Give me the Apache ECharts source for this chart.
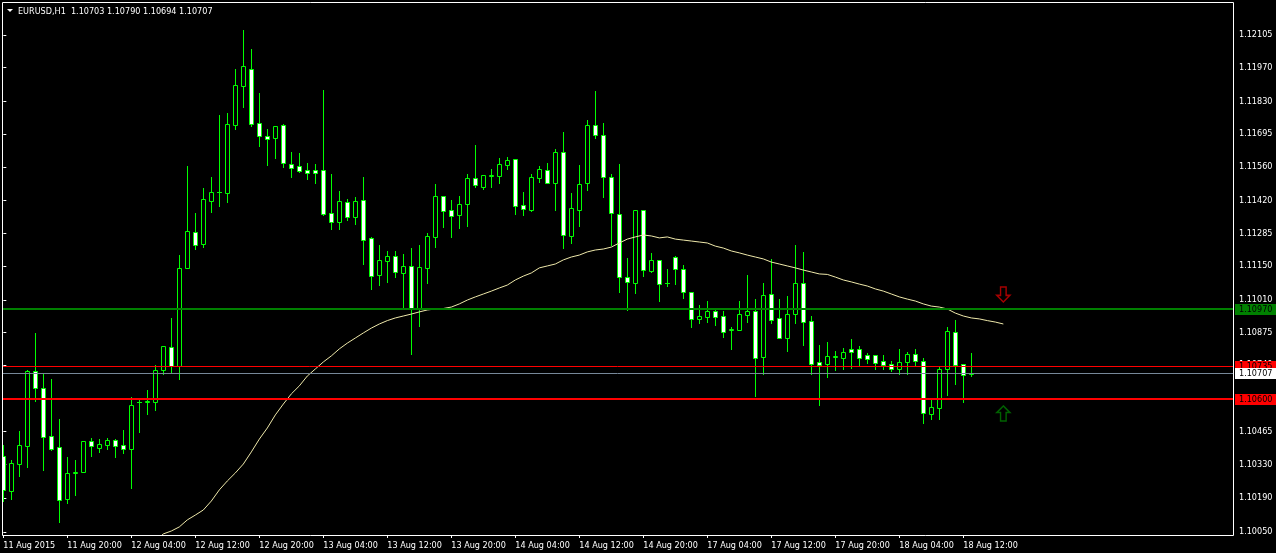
<!DOCTYPE html>
<html>
<head>
<meta charset="utf-8">
<title>EURUSD,H1</title>
<script src="https://cdn.jsdelivr.net/npm/echarts@6.0.0/dist/echarts.min.js"></script>
<style>
  html, body { margin: 0; padding: 0; background: #000; }
  #chart { width: 1276px; height: 553px; }
</style>
</head>
<body>
<div id="chart"></div>
<script>
// ---- chart data -------------------------------------------------------
const symbolName = 'EURUSD,H1';

// time labels, one every 8 hourly bars starting at bar 0
const timeLabels = [
  '11 Aug 2015', '11 Aug 20:00', '12 Aug 04:00', '12 Aug 12:00', '12 Aug 20:00',
  '13 Aug 04:00', '13 Aug 12:00', '13 Aug 20:00', '14 Aug 04:00', '14 Aug 12:00',
  '14 Aug 20:00', '17 Aug 04:00', '17 Aug 12:00', '17 Aug 20:00', '18 Aug 04:00',
  '18 Aug 12:00'
];
const labelStep = 8;

// hourly OHLC
const opens = [
  1.10364, 1.10221, 1.10333, 1.10407, 1.10716, 1.10644, 1.10446, 1.10400, 1.10185, 1.10295,
  1.10300, 1.10428, 1.10399, 1.10411, 1.10429, 1.10409, 1.10395, 1.10586, 1.10589, 1.10586,
  1.10721, 1.10814, 1.10735, 1.11143, 1.11289, 1.11242, 1.11420, 1.11455, 1.11453, 1.11734,
  1.11896, 1.11963, 1.11740, 1.11686, 1.11677, 1.11732, 1.11571, 1.11562, 1.11546, 1.11546,
  1.11546, 1.11368, 1.11333, 1.11413, 1.11354, 1.11422, 1.11265, 1.11113, 1.11172, 1.11190,
  1.11122, 1.11149, 1.10978, 1.11143, 1.11271, 1.11438, 1.11380, 1.11362, 1.11408, 1.11513,
  1.11478, 1.11523, 1.11523, 1.11569, 1.11591, 1.11401, 1.11382, 1.11515, 1.11548, 1.11494,
  1.11620, 1.11275, 1.11383, 1.11492, 1.11732, 1.11690, 1.11517, 1.11364, 1.11103, 1.11081,
  1.11380, 1.11131, 1.11174, 1.11080, 1.11186, 1.11136, 1.11041, 1.10930, 1.10940, 1.10964,
  1.10942, 1.10887, 1.10887, 1.10949, 1.10964, 1.10775, 1.11033, 1.10934, 1.10854, 1.10950,
  1.11079, 1.10921, 1.10753, 1.10746, 1.10775, 1.10771, 1.10807, 1.10807, 1.10782, 1.10781,
  1.10756, 1.10743, 1.10725, 1.10754, 1.10785, 1.10756, 1.10539, 1.10564, 1.10723, 1.10876,
  1.10745, 1.10703
];
const highs = [
  1.10410, 1.10348, 1.10468, 1.10720, 1.10874, 1.10702, 1.10683, 1.10517, 1.10360, 1.10348,
  1.10428, 1.10438, 1.10435, 1.10440, 1.10434, 1.10472, 1.10608, 1.10599, 1.10637, 1.10741,
  1.10818, 1.10935, 1.11196, 1.11564, 1.11369, 1.11473, 1.11518, 1.11774, 1.11783, 1.11965,
  1.12126, 1.12047, 1.11865, 1.11717, 1.11728, 1.11736, 1.11622, 1.11617, 1.11576, 1.11572,
  1.11878, 1.11530, 1.11460, 1.11427, 1.11435, 1.11518, 1.11270, 1.11237, 1.11212, 1.11212,
  1.11200, 1.11226, 1.11237, 1.11287, 1.11489, 1.11438, 1.11423, 1.11441, 1.11530, 1.11650,
  1.11525, 1.11550, 1.11597, 1.11601, 1.11591, 1.11456, 1.11529, 1.11564, 1.11576, 1.11633,
  1.11703, 1.11452, 1.11568, 1.11754, 1.11874, 1.11741, 1.11529, 1.11572, 1.11182, 1.11380,
  1.11380, 1.11204, 1.11174, 1.11138, 1.11191, 1.11154, 1.11041, 1.10989, 1.11005, 1.10975,
  1.10964, 1.10898, 1.11005, 1.11113, 1.11014, 1.11080, 1.11179, 1.11014, 1.11026, 1.11237,
  1.11207, 1.10943, 1.10823, 1.10836, 1.10799, 1.10811, 1.10848, 1.10819, 1.10790, 1.10781,
  1.10781, 1.10756, 1.10807, 1.10794, 1.10807, 1.10769, 1.10596, 1.10736, 1.10898, 1.10927,
  1.10745, 1.10790
];
const lows = [
  1.10178, 1.10187, 1.10283, 1.10320, 1.10592, 1.10307, 1.10389, 1.10093, 1.10171, 1.10203,
  1.10300, 1.10366, 1.10382, 1.10393, 1.10362, 1.10378, 1.10233, 1.10464, 1.10538, 1.10555,
  1.10702, 1.10713, 1.10683, 1.11143, 1.11220, 1.11230, 1.11373, 1.11398, 1.11415, 1.11717,
  1.11808, 1.11729, 1.11646, 1.11568, 1.11597, 1.11560, 1.11518, 1.11539, 1.11510, 1.11493,
  1.11361, 1.11303, 1.11303, 1.11340, 1.11324, 1.11158, 1.11055, 1.11072, 1.11084, 1.11106,
  1.10982, 1.10786, 1.10902, 1.11081, 1.11230, 1.11309, 1.11271, 1.11307, 1.11315, 1.11475,
  1.11470, 1.11478, 1.11494, 1.11551, 1.11366, 1.11362, 1.11377, 1.11497, 1.11492, 1.11382,
  1.11226, 1.11246, 1.11315, 1.11464, 1.11681, 1.11437, 1.11237, 1.11044, 1.10968, 1.11040,
  1.11108, 1.11125, 1.11007, 1.11069, 1.11077, 1.11016, 1.10899, 1.10913, 1.10920, 1.10906,
  1.10858, 1.10808, 1.10885, 1.10920, 1.10614, 1.10702, 1.10913, 1.10851, 1.10800, 1.10916,
  1.10823, 1.10703, 1.10575, 1.10692, 1.10721, 1.10723, 1.10729, 1.10740, 1.10750, 1.10724,
  1.10724, 1.10717, 1.10703, 1.10703, 1.10742, 1.10502, 1.10518, 1.10517, 1.10616, 1.10662,
  1.10587, 1.10694
];
const closes = [
  1.10224, 1.10334, 1.10409, 1.10716, 1.10644, 1.10442, 1.10395, 1.10181, 1.10293, 1.10296,
  1.10425, 1.10407, 1.10413, 1.10431, 1.10407, 1.10395, 1.10574, 1.10587, 1.10590, 1.10719,
  1.10818, 1.10735, 1.11141, 1.11294, 1.11238, 1.11426, 1.11455, 1.11456, 1.11736, 1.11897,
  1.11976, 1.11739, 1.11689, 1.11674, 1.11728, 1.11577, 1.11557, 1.11544, 1.11536, 1.11536,
  1.11366, 1.11333, 1.11418, 1.11354, 1.11418, 1.11259, 1.11110, 1.11174, 1.11190, 1.11127,
  1.11150, 1.10974, 1.11145, 1.11273, 1.11438, 1.11379, 1.11358, 1.11405, 1.11513, 1.11484,
  1.11525, 1.11524, 1.11571, 1.11588, 1.11397, 1.11384, 1.11517, 1.11550, 1.11492, 1.11620,
  1.11277, 1.11389, 1.11489, 1.11732, 1.11693, 1.11517, 1.11368, 1.11103, 1.11083, 1.11380,
  1.11132, 1.11174, 1.11074, 1.11081, 1.11136, 1.11041, 1.10930, 1.10942, 1.10964, 1.10940,
  1.10878, 1.10888, 1.10950, 1.10964, 1.10771, 1.11029, 1.10928, 1.10854, 1.10950, 1.11079,
  1.10920, 1.10746, 1.10742, 1.10778, 1.10776, 1.10794, 1.10795, 1.10771, 1.10765, 1.10750,
  1.10742, 1.10725, 1.10752, 1.10785, 1.10758, 1.10543, 1.10567, 1.10723, 1.10881, 1.10740,
  1.10700, 1.10707
];

// moving average (shifted forward), first value belongs to bar maStart
const maStart = 19;
const maValues = [
  1.10013, 1.10042, 1.10054, 1.10071, 1.10100, 1.10120, 1.10141, 1.10178, 1.10224, 1.10261,
  1.10294, 1.10331, 1.10381, 1.10434, 1.10480, 1.10534, 1.10579, 1.10621, 1.10654, 1.10695,
  1.10724, 1.10753, 1.10778, 1.10807, 1.10831, 1.10852, 1.10873, 1.10893, 1.10910, 1.10924,
  1.10935, 1.10943, 1.10951, 1.10960, 1.10968, 1.10972, 1.10974, 1.10980, 1.10993, 1.11009,
  1.11022, 1.11034, 1.11046, 1.11059, 1.11071, 1.11092, 1.11108, 1.11121, 1.11142, 1.11150,
  1.11158, 1.11175, 1.11187, 1.11195, 1.11208, 1.11216, 1.11220, 1.11228, 1.11245, 1.11261,
  1.11270, 1.11278, 1.11274, 1.11266, 1.11270, 1.11261, 1.11257, 1.11253, 1.11249, 1.11245,
  1.11232, 1.11224, 1.11212, 1.11204, 1.11195, 1.11187, 1.11179, 1.11166, 1.11158, 1.11150,
  1.11142, 1.11133, 1.11125, 1.11117, 1.11115, 1.11104, 1.11092, 1.11084, 1.11075, 1.11067,
  1.11055, 1.11046, 1.11034, 1.11022, 1.11013, 1.11005, 1.10993, 1.10984, 1.10980, 1.10972,
  1.10955, 1.10943, 1.10935, 1.10931, 1.10924, 1.10918, 1.10910
];

// price scale labels
const priceTicks = [
  1.12105, 1.11970, 1.11830, 1.11695, 1.11560, 1.11420, 1.11285, 1.11150,
  1.11010, 1.10875, 1.10740, 1.10600, 1.10465, 1.10330, 1.10190, 1.10050
];

// horizontal levels
const levelNames = ['resistance', 'alert', 'bid', 'support'];
const levelPrices = [1.10970, 1.10735, 1.10707, 1.10600];

// signal arrows
const arrowNames = ['sell', 'buy'];
const arrowBars = [125, 125];
const arrowPrices = [1.11032, 1.10540];

// ---- styling ----------------------------------------------------------
const FONT = '"DejaVu Sans Condensed", "Liberation Sans", sans-serif';
const CANDLE_LINE = '#00ff00';
const levelStyles = {
  resistance: { stroke: '#008000', width: 2, tag: '#008000' },
  alert:      { stroke: '#ff0000', width: 1, tag: '#ff0000' },
  bid:        { stroke: '#778899', width: 1, tag: '#ffffff' },
  support:    { stroke: '#ff0000', width: 2, tag: '#ff0000' }
};
const arrowStyles = {
  sell: { path: 'path://M4,0 L10,0 L10,9 L14,9 L7,16 L0,9 L4,9 Z', color: '#d00000' },
  buy:  { path: 'path://M7,0 L14,7 L10,7 L10,16 L4,16 L4,7 L0,7 Z', color: '#007a00' }
};

// plot frame (pixels)
const PLOT_LEFT = 2, PLOT_TOP = 2, PLOT_RIGHT = 1233, PLOT_BOTTOM = 535;
const BAR_PX = 8;
const xMin = -(3.33 - PLOT_LEFT) / BAR_PX;
const xMax = xMin + (PLOT_RIGHT - PLOT_LEFT) / BAR_PX;
const yMax = 1.122414;
const yMin = 1.100375;

// ---- build ------------------------------------------------------------
const last = opens.length - 1;
const titleText = symbolName + '  ' + [opens[last], highs[last], lows[last], closes[last]]
  .map(v => v.toFixed(5)).join(' ');

const candleRows = opens.map((o, i) => [i, o, highs[i], lows[i], closes[i]]);
const maRows = maValues.map((v, k) => [maStart + k, v]);
const levelRows = levelPrices.map(p => [0, p]);
const labelBars = timeLabels.map((_, k) => k * labelStep);

function renderCandle(params, api) {
  const i = api.value(0);
  const o = api.value(1), h = api.value(2), l = api.value(3), c = api.value(4);
  const xc = Math.floor(api.coord([i, o])[0]) + 0.5;
  const yo = Math.round(api.coord([i, o])[1]);
  const yc = Math.round(api.coord([i, c])[1]);
  const yh = Math.round(api.coord([i, h])[1]);
  const yl = Math.round(api.coord([i, l])[1]);
  const top = Math.min(yo, yc), bot = Math.max(yo, yc);
  const children = [{
    type: 'line',
    shape: { x1: xc, y1: yh, x2: xc, y2: yl + 1 },
    style: { stroke: CANDLE_LINE, lineWidth: 1 }
  }];
  if (bot - top < 1) {
    children.push({
      type: 'line',
      shape: { x1: xc - 2.5, y1: top + 0.5, x2: xc + 2.5, y2: top + 0.5 },
      style: { stroke: CANDLE_LINE, lineWidth: 1 }
    });
  } else {
    children.push({
      type: 'rect',
      shape: { x: xc - 2, y: top + 0.5, width: 4, height: bot - top },
      style: { fill: c >= o ? '#000000' : '#ffffff', stroke: CANDLE_LINE, lineWidth: 1 }
    });
  }
  return { type: 'group', children: children };
}

function renderLevel(params, api) {
  const st = levelStyles[levelNames[params.dataIndex]];
  const cs = params.coordSys;
  const price = api.value(1);
  const yc = Math.round(api.coord([0, price])[1]);
  const yLine = st.width % 2 ? yc + 0.5 : yc;
  const tagX = cs.x + cs.width + 2;
  return {
    type: 'group',
    children: [
      { type: 'line', shape: { x1: cs.x, y1: yLine, x2: cs.x + cs.width, y2: yLine },
        style: { stroke: st.stroke, lineWidth: st.width } },
      { type: 'rect', shape: { x: tagX, y: yc - 5, width: api.getWidth() - tagX, height: 11 },
        style: { fill: st.tag } },
      { type: 'text', style: { text: price.toFixed(5), x: tagX + 4, y: yc + 1,
        fill: '#000000', font: '9px ' + FONT, verticalAlign: 'middle' } }
    ]
  };
}

const chart = echarts.init(document.getElementById('chart'), null, { renderer: 'canvas' });
chart.setOption({
  backgroundColor: '#000000',
  animation: false,
  grid: {
    left: PLOT_LEFT, top: PLOT_TOP,
    right: 1276 - PLOT_RIGHT, bottom: 553 - PLOT_BOTTOM,
    containLabel: false, outerBoundsMode: 'none', show: false
  },
  xAxis: {
    type: 'value', min: xMin, max: xMax,
    axisLine: { show: false },
    splitLine: { show: false },
    axisTick: { show: true, length: 3, customValues: labelBars, lineStyle: { color: '#ffffff' } },
    axisLabel: {
      show: true, customValues: labelBars,
      formatter: v => timeLabels[Math.round(v / labelStep)] || '',
      color: '#ffffff', fontSize: 9, fontFamily: FONT, align: 'left', margin: 6
    }
  },
  yAxis: {
    type: 'value', position: 'right', min: yMin, max: yMax,
    axisLine: { show: false },
    splitLine: { show: false },
    axisTick: { show: true, length: 3, customValues: priceTicks, lineStyle: { color: '#ffffff' } },
    axisLabel: {
      show: true, customValues: priceTicks,
      formatter: v => Number(v).toFixed(5),
      color: '#ffffff', fontSize: 9, fontFamily: FONT, margin: 6, padding: [2, 0, 0, 0]
    }
  },
  series: [
    {
      name: 'candles', type: 'custom', renderItem: renderCandle,
      data: candleRows, encode: { x: 0, y: [1, 2, 3, 4] },
      clip: true, z: 2, silent: true
    },
    {
      name: 'MA', type: 'line', data: maRows, showSymbol: false, symbol: 'none',
      lineStyle: { color: '#eee8aa', width: 1 }, clip: true, z: 3, silent: true
    },
    {
      name: 'levels', type: 'custom', renderItem: renderLevel,
      data: levelRows, encode: { x: 0, y: 1 }, clip: false, z: 4, silent: true
    },
    {
      name: 'arrows', type: 'scatter',
      data: arrowBars.map((b, k) => ({
        value: [b, arrowPrices[k]],
        symbol: arrowStyles[arrowNames[k]].path,
        itemStyle: { color: '#000000', borderColor: arrowStyles[arrowNames[k]].color, borderWidth: 1.5 }
      })),
      symbolSize: [13, 15], z: 5, silent: true
    }
  ],
  graphic: [
    { type: 'rect', z: 100, silent: true,
      shape: { x: PLOT_LEFT + 0.5, y: PLOT_TOP + 0.5, width: PLOT_RIGHT - PLOT_LEFT, height: PLOT_BOTTOM - PLOT_TOP },
      style: { fill: 'none', stroke: '#ffffff', lineWidth: 1 } },
    { type: 'polygon', z: 100, silent: true,
      shape: { points: [[7, 9], [13, 9], [10, 12]] }, style: { fill: '#ffffff' } },
    { type: 'text', z: 100, silent: true, x: 18, y: 12,
      style: { text: titleText, fill: '#ffffff', font: '9px ' + FONT, verticalAlign: 'middle' } }
  ]
});
</script>
</body>
</html>
